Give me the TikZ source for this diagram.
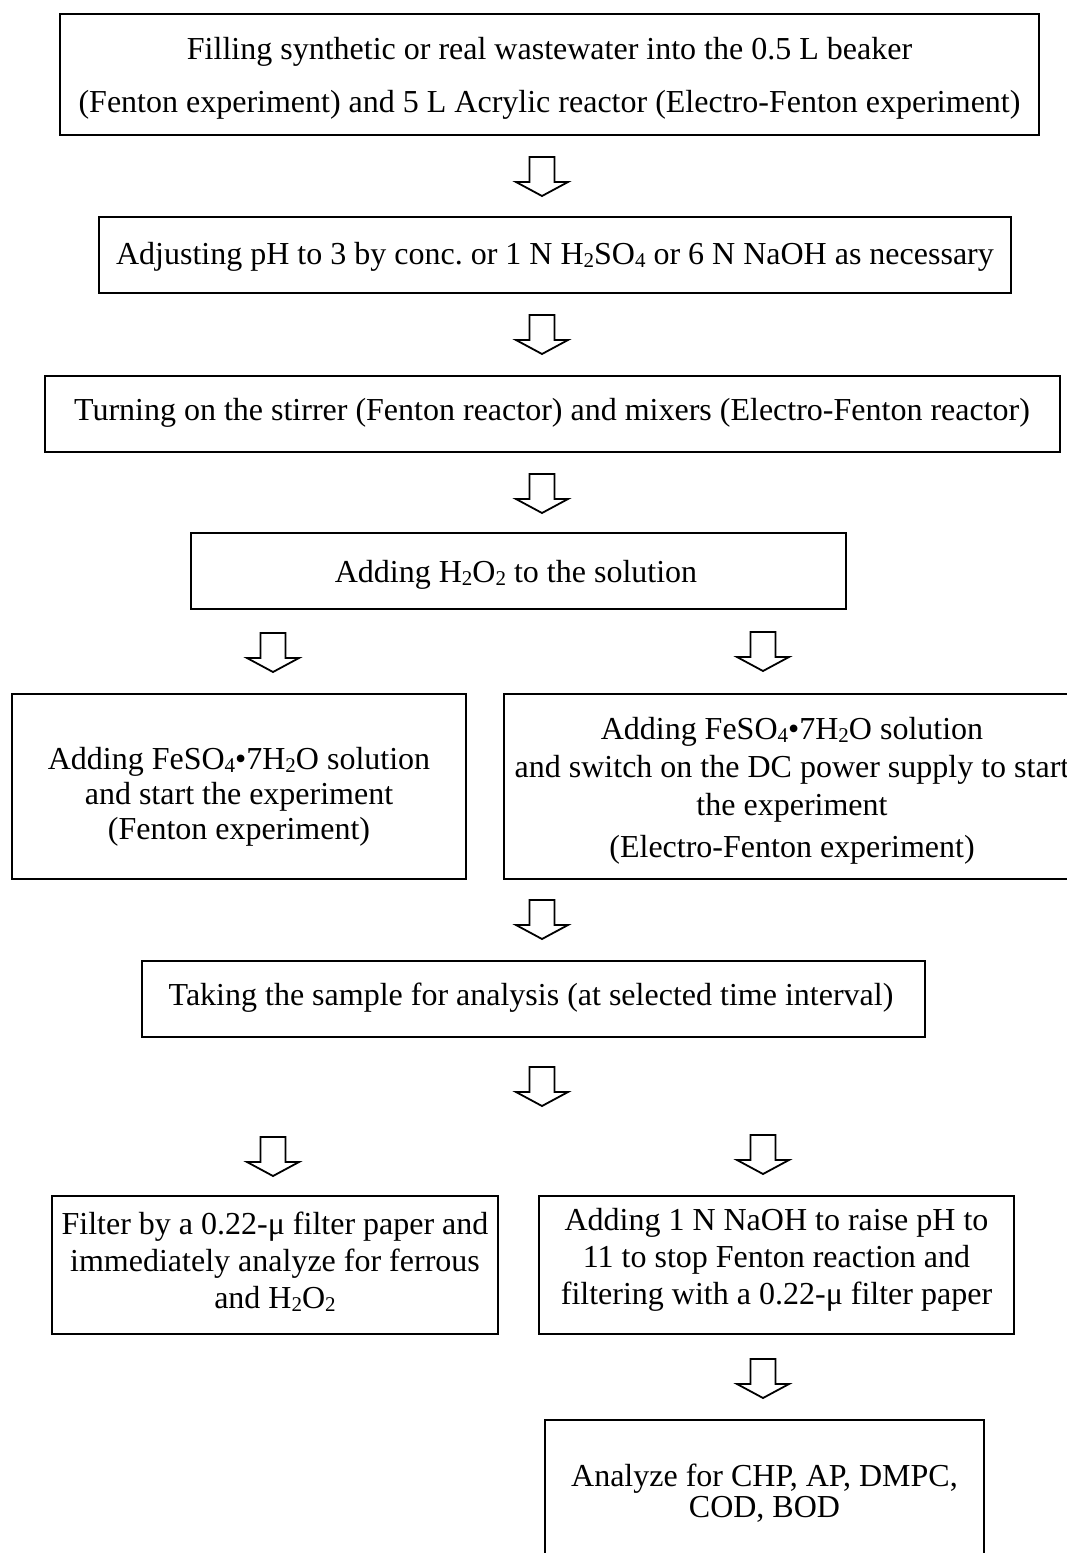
\documentclass[tikz,border=0pt]{standalone}
\usepackage{fontspec}
\setmainfont{Liberation Serif}
\frenchspacing
\newcommand\sbs[1]{\raisebox{-3pt}{\fontsize{21}{21}\selectfont #1}}
\tikzset{
  box/.style={draw=black, line width=2.3pt, rectangle, inner sep=0pt},
  txt/.style={align=center, inner sep=0pt, font=\fontsize{32}{37}\selectfont},
  barrow/.pic={\draw[line width=1.8pt, line join=miter, fill=white]
    (-12.5,0) -- (12.5,0) -- (12.5,25) -- (26,25) -- (0,39) -- (-26,25) -- (-12.5,25) -- cycle;}
}
\begin{document}
\begin{tikzpicture}[x=1pt, y=-1pt]
\useasboundingbox (0,0) rectangle (1067,1553);
\clip (0,0) rectangle (1067,1553);
\fill[white] (0,0) rectangle (1067,1553);

% boxes
\node[box, minimum width=979pt, minimum height=121pt] (b1) at (549.5,74.5) {};
\node[box, minimum width=912pt, minimum height=76pt] (b2) at (555,255) {};
\node[box, minimum width=1015pt, minimum height=76pt] (b3) at (552.5,414) {};
\node[box, minimum width=655pt, minimum height=76pt] (b4) at (518.5,571) {};
\node[box, minimum width=454pt, minimum height=185pt] (b5l) at (239,786.5) {};
\node[box, minimum width=586pt, minimum height=185pt] (b5r) at (797,786.5) {};
\node[box, minimum width=783pt, minimum height=76pt] (b6) at (533.5,999) {};
\node[box, minimum width=446pt, minimum height=138pt] (b7l) at (275,1265) {};
\node[box, minimum width=475pt, minimum height=138pt] (b7r) at (776.5,1265) {};
\node[box, minimum width=439pt, minimum height=180pt] (b8) at (764.5,1510) {};

% texts
\node[txt] (t1) at (549.5,78.5) {Filling synthetic or real wastewater into the 0.5 L beaker\\[16pt](Fenton experiment) and 5 L Acrylic reactor (Electro-Fenton experiment)};
\node[txt] (t2) at (555,257) {Adjusting pH to 3 by conc. or 1 N H\sbs{2}SO\sbs{4} or 6 N NaOH as necessary};
\node[txt] (t3) at (552,413) {Turning on the stirrer (Fenton reactor) and mixers (Electro-Fenton reactor)};
\node[txt] (t4) at (516,575) {Adding H\sbs{2}O\sbs{2} to the solution};
\node[txt, font=\fontsize{32}{35}\selectfont] (t5l) at (239,797) {Adding FeSO\sbs{4}•7H\sbs{2}O solution\\and start the experiment\\(Fenton experiment)};
\node[txt, font=\fontsize{32}{38}\selectfont] (t5r) at (792,791) {Adding FeSO\sbs{4}•7H\sbs{2}O solution\\and switch on the DC power supply to start\\the experiment\\[4pt](Electro-Fenton experiment)};
\node[txt] (t6) at (531,998) {Taking the sample for analysis (at selected time interval)};
\node[txt] (t7l) at (275,1261.5) {Filter by a 0.22-μ filter paper and\\immediately analyze for ferrous\\and H\sbs{2}O\sbs{2}};
\node[txt] (t7r) at (776.5,1260) {Adding 1 N NaOH to raise pH to\\11 to stop Fenton reaction and\\filtering with a 0.22-μ filter paper};
\node[txt, font=\fontsize{32}{31}\selectfont] (t8) at (764.5,1493) {Analyze for CHP, AP, DMPC,\\COD, BOD};

% block arrows
\pic (a1) at (542,157) {barrow};
\pic (a2) at (542,315) {barrow};
\pic (a3) at (542,474) {barrow};
\pic (a4l) at (273,633) {barrow};
\pic (a4r) at (763,632) {barrow};
\pic (a5) at (542,900) {barrow};
\pic (a6) at (542,1067) {barrow};
\pic (a7l) at (273,1137) {barrow};
\pic (a7r) at (763,1135) {barrow};
\pic (a8) at (763,1359) {barrow};
\end{tikzpicture}
\end{document}
